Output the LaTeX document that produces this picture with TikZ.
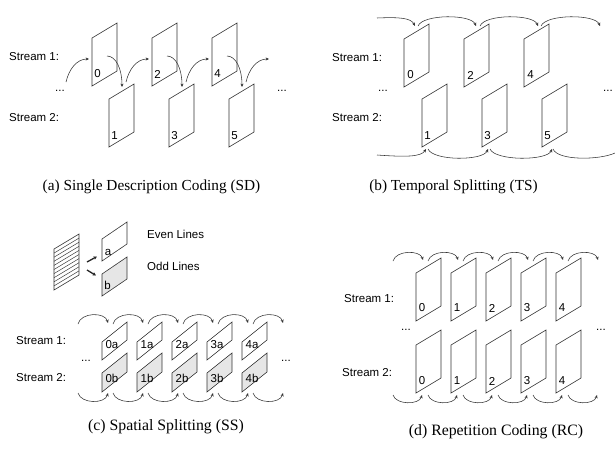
\documentclass[tikz,border=0pt]{standalone}
\usepackage{fontspec}
\setmainfont{Liberation Serif}
\newfontfamily\arialf{Liberation Sans}
\usetikzlibrary{arrows.meta,calc}
\definecolor{ln}{HTML}{333333}
\definecolor{fl}{HTML}{E6E6E6}
\tikzset{
 frm/.style={draw=ln, line width=0.6pt, line join=miter},
 gfrm/.style={frm, fill=fl},
 arcl/.style={draw=ln, line width=0.55pt, -{Stealth[length=3.4pt,width=3pt]}},
 arcn/.style={draw=ln, line width=0.55pt},
 thk/.style={draw=black!85, line width=1.3pt, -{Stealth[length=3.5pt,width=3.5pt]}},
 lbl/.style={font=\arialf\fontsize{11.5}{12}\selectfont, text=black, inner sep=0pt},
 captxt/.style={font=\fontsize{15.3}{18}\selectfont, text=black, inner sep=0pt},
 captxtb/.style={font=\fontsize{15.8}{18}\selectfont, text=black, inner sep=0pt},
}
% name, x, y (bottom-left), h, s, style, label, label dx, label dy
\newcommand{\vframe}[9]{%
 \coordinate (#1) at (#2,#3);
 \draw[#6] (#2,#3) -- ++(0,-#4) -- ++(25,-#5) -- ++(0,#4) -- cycle;
 \node[lbl] (#1t) at (#2+#8,#3-#9) {#7};
}
\begin{document}
\begin{tikzpicture}[x=1pt,y=-1pt]
\useasboundingbox (0,0) rectangle (615,450);

% ================= (a) =================
\node[lbl,anchor=west] (a-s1) at (9,57) {Stream 1:};
\node[lbl,anchor=west] (a-s2) at (9,118) {Stream 2:};
\node[lbl] (a-dl) at (60,91) {...};
\node[lbl] (a-dr) at (282,91) {...};
\foreach \k/\L in {0/92,2/152,4/212}{\vframe{a\k}{\L}{86}{48}{15}{frm}{\k}{5.5}{12}}
\foreach \k/\L in {1/109,3/169,5/229}{\vframe{a\k}{\L}{147}{48}{15}{frm}{\k}{5.5}{11}}
\foreach \i/\x in {0/66,1/126,2/186,3/246}{
 \coordinate (ai\i s) at (\x,82);
 \coordinate (ai\i e) at (\x+23,59);
 \draw[arcl] (ai\i s) .. controls (\x+3,69) and (\x+11,59) .. (ai\i e);
}
\foreach \i/\x in {0/107,1/167,2/227}{
 \coordinate (ad\i s) at (\x,56);
 \coordinate (ad\i e) at (\x+15,87);
 \draw[arcl] (ad\i s) .. controls (\x+9,56) and (\x+15,69) .. (ad\i e);
}
\node[captxt] (a-cap) at (151.5,187) {(a) Single Description Coding (SD)};

% ================= (b) =================
\node[lbl,anchor=west] (b-s1) at (332,58) {Stream 1:};
\node[lbl,anchor=west] (b-s2) at (332,118) {Stream 2:};
\node[lbl] (b-dl) at (383,91) {...};
\node[lbl] (b-dr) at (608,91) {...};
\foreach \k/\L in {0/404,2/464,4/524}{\vframe{b\k}{\L}{87}{48}{15}{frm}{\k}{6.5}{12}}
\foreach \k/\L in {1/422,3/482,5/542}{\vframe{b\k}{\L}{147}{48}{15}{frm}{\k}{5.5}{11}}
% top arcs
\coordinate (bt0s) at (377,18);
\coordinate (bt0e) at (415,26);
\draw[arcl] (bt0s) .. controls (400,17) and (411,18) .. (bt0e);
\foreach \i/\x/\y in {1/418/476,2/480/538,3/541/600}{
 \coordinate (bt\i s) at (\x,26);
 \coordinate (bt\i e) at (\y,26);
 \draw[arcl] (bt\i s) .. controls (\x+5,14) and (\y-5,14) .. (bt\i e);
}
% bottom arcs
\coordinate (bb0s) at (377,155);
\coordinate (bb0e) at (426,149);
\draw[arcl] (bb0s) .. controls (405,157) and (421,157) .. (bb0e);
\foreach \i/\x/\y in {1/428/488,2/490/552}{
 \coordinate (bb\i s) at (\x,149);
 \coordinate (bb\i e) at (\y,149);
 \draw[arcl] (bb\i s) .. controls (\x+5,161) and (\y-5,161) .. (bb\i e);
}
\coordinate (bb3s) at (553,149);
\coordinate (bb3e) at (615,153);
\draw[arcn] (bb3s) .. controls (558,161) and (600,160) .. (bb3e);
\node[captxt] (b-cap) at (453.5,187) {(b) Temporal Splitting (TS)};

% ================= (c) =================
\draw[frm] (54,290) -- (54,249) -- (79,234) -- (79,275) -- cycle;
\foreach \i in {1,...,9}{\draw[ln, line width=0.5pt] (54,249+4.1*\i) -- (79,234+4.1*\i);}
\vframe{ca}{102}{261}{22}{17}{frm}{a}{6}{9}
\vframe{cb}{102}{296}{22}{17}{gfrm}{b}{5.5}{11}
\coordinate (th1s) at (87,262);
\coordinate (th1e) at (97,256.5);
\coordinate (th2s) at (87,270);
\coordinate (th2e) at (96,275.5);
\draw[thk] (th1s) -- (th1e);
\draw[thk] (th2s) -- (th2e);
\node[lbl,anchor=west] (c-even) at (147,234) {Even Lines};
\node[lbl,anchor=west] (c-odd) at (147,266) {Odd Lines};

\node[lbl,anchor=west] (c-s1) at (16,341) {Stream 1:};
\node[lbl,anchor=west] (c-s2) at (16,378) {Stream 2:};
\node[lbl] (c-dl) at (86,361) {...};
\node[lbl] (c-dr) at (286,361) {...};
\foreach \k/\L in {0/102,1/137,2/172,3/207,4/242}{
 \vframe{c\k a}{\L}{360}{18}{20}{frm}{\k a}{10}{15}
 \vframe{c\k b}{\L}{392}{19}{20}{gfrm}{\k b}{10}{13.5}
}
\foreach \i in {0,...,5}{
 \coordinate (ct\i s) at (78+35*\i,324);
 \coordinate (ct\i e) at (108+35*\i,323);
 \draw[arcl] (ct\i s) .. controls (81+35*\i,312) and (105+35*\i,312) .. (ct\i e);
 \coordinate (cb\i s) at (78+35*\i,393);
 \coordinate (cb\i e) at (108+35*\i,393);
 \draw[arcl] (cb\i s) .. controls (81+35*\i,404) and (105+35*\i,404) .. (cb\i e);
}
\node[captxtb] (c-cap) at (166,427) {(c) Spatial Splitting (SS)};

% ================= (d) =================
\node[lbl,anchor=west] (d-s1) at (344,299) {Stream 1:};
\node[lbl,anchor=west] (d-s2) at (342,373) {Stream 2:};
\node[lbl] (d-dl) at (406,330) {...};
\node[lbl] (d-dr) at (601,330) {...};
\foreach \k/\L in {0/416,1/451,2/486,3/521,4/556}{
 \vframe{d\k t}{\L}{321}{48}{15}{frm}{\k}{6}{13}
 \vframe{d\k b}{\L}{393}{48}{15}{frm}{\k}{6}{12}
}
\foreach \i in {0,...,5}{
 \coordinate (dt\i s) at (393+35*\i,261);
 \coordinate (dt\i e) at (423+35*\i,260);
 \draw[arcl] (dt\i s) .. controls (396+35*\i,250) and (420+35*\i,250) .. (dt\i e);
 \coordinate (db\i s) at (393+35*\i,395);
 \coordinate (db\i e) at (422+35*\i,395);
 \draw[arcl] (db\i s) .. controls (396+35*\i,405) and (419+35*\i,405) .. (db\i e);
}
\node[captxtb] (d-cap) at (496,432) {(d) Repetition Coding (RC)};
\end{tikzpicture}
\end{document}
